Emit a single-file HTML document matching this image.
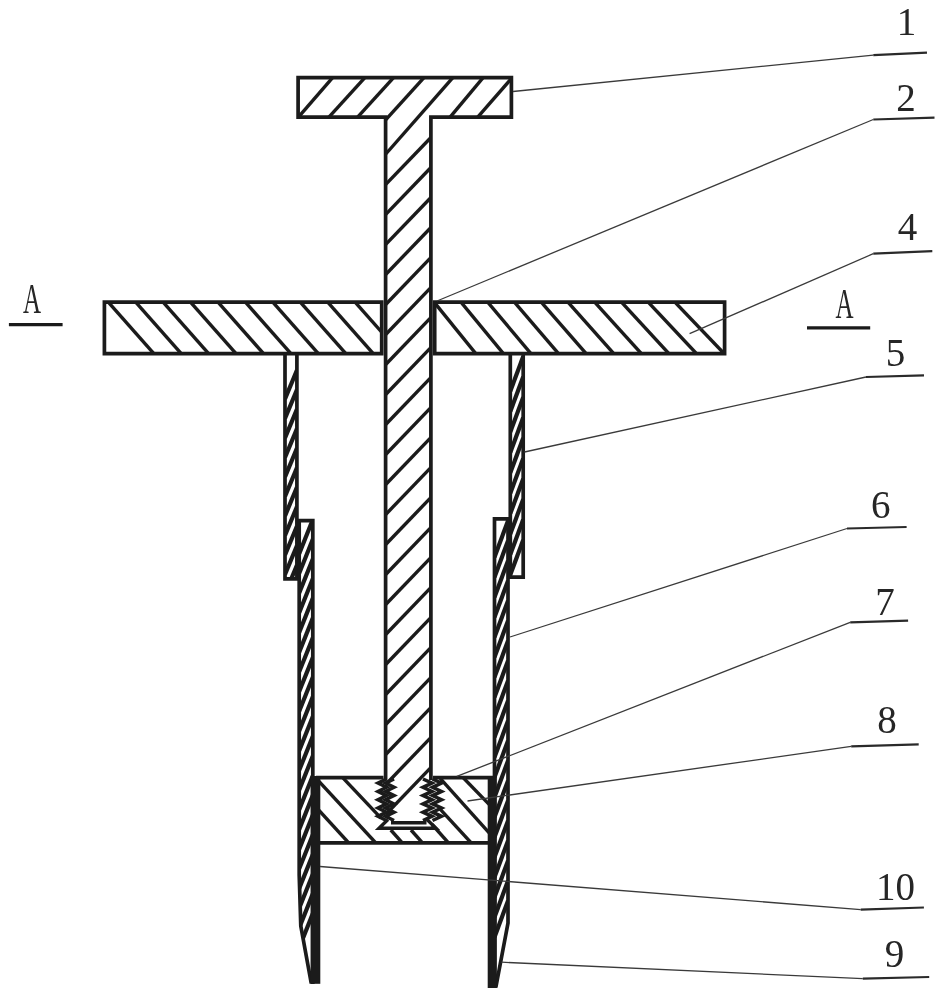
<!DOCTYPE html>
<html lang="zh"><head><meta charset="utf-8"><title>Figure</title>
<style>
html,body{margin:0;padding:0;background:#fff;}
body{width:949px;height:1000px;overflow:hidden;font-family:"Liberation Serif","Noto Serif CJK SC",serif;}
svg{display:block;filter:grayscale(1);}
svg text{font-family:"Liberation Serif","Noto Serif CJK SC",serif;fill:#262626;}
</style></head><body>
<svg width="949" height="1000" viewBox="0 0 949 1000">
<rect width="949" height="1000" fill="#fff"/>
<defs>
<clipPath id="c1"><polygon points="298.1,77.6 511.4,77.6 511.4,117.1 430.9,117.1 430.9,823.0 385.6,823.0 385.6,117.1 298.1,117.1"/></clipPath>
<clipPath id="c2"><polygon points="104.4,302.2 381.7,302.2 381.7,353.7 104.4,353.7"/></clipPath>
<clipPath id="c3"><polygon points="434.7,302.2 724.6,302.2 724.6,353.7 434.7,353.7"/></clipPath>
<clipPath id="c4"><polygon points="285.0,353.7 296.9,353.7 296.9,578.9 285.0,578.9"/></clipPath>
<clipPath id="c5"><polygon points="510.3,353.7 523.2,353.7 523.2,577.2 510.3,577.2"/></clipPath>
<clipPath id="c6"><polygon points="299.2,520.6 312.8,520.6 312.8,984.0 311.0,984.0 300.8,926.0 299.2,875.0"/></clipPath>
<clipPath id="c7"><polygon points="494.5,518.9 508.0,518.9 508.0,923.0 496.0,988.0 494.5,988.0"/></clipPath>
<clipPath id="c8"><polygon points="317.8,777.7 491.6,777.7 491.6,842.8 317.8,842.8"/></clipPath>
</defs>
<g clip-path="url(#c1)" stroke="#1b1b1b" stroke-width="3.4">
<line x1="295.6" y1="120.3" x2="337.5" y2="72.0"/>
<line x1="326.2" y1="120.2" x2="369.9" y2="72.1"/>
<line x1="354.9" y1="120.2" x2="398.6" y2="72.1"/>
<line x1="381.6" y1="124.3" x2="429.0" y2="72.1"/>
<line x1="382.3" y1="158.0" x2="457.8" y2="72.0"/>
<line x1="447.4" y1="120.4" x2="487.9" y2="71.9"/>
<line x1="474.9" y1="120.3" x2="517.1" y2="72.0"/>
<line x1="380.0" y1="190.4" x2="436.0" y2="132.2"/>
<line x1="380.0" y1="220.4" x2="436.0" y2="162.2"/>
<line x1="380.0" y1="250.4" x2="436.0" y2="192.2"/>
<line x1="380.0" y1="280.4" x2="436.0" y2="222.2"/>
<line x1="380.0" y1="310.4" x2="436.0" y2="252.2"/>
<line x1="380.0" y1="340.4" x2="436.0" y2="282.2"/>
<line x1="380.0" y1="370.4" x2="436.0" y2="312.2"/>
<line x1="380.0" y1="400.4" x2="436.0" y2="342.2"/>
<line x1="380.0" y1="430.4" x2="436.0" y2="372.2"/>
<line x1="380.0" y1="460.4" x2="436.0" y2="402.2"/>
<line x1="380.0" y1="490.4" x2="436.0" y2="432.2"/>
<line x1="380.0" y1="520.4" x2="436.0" y2="462.2"/>
<line x1="380.0" y1="550.4" x2="436.0" y2="492.2"/>
<line x1="380.0" y1="580.4" x2="436.0" y2="522.2"/>
<line x1="380.0" y1="610.4" x2="436.0" y2="552.2"/>
<line x1="380.0" y1="640.4" x2="436.0" y2="582.2"/>
<line x1="380.0" y1="670.4" x2="436.0" y2="612.2"/>
<line x1="380.0" y1="700.4" x2="436.0" y2="642.2"/>
<line x1="380.0" y1="730.4" x2="436.0" y2="672.2"/>
<line x1="380.0" y1="760.4" x2="436.0" y2="702.2"/>
<line x1="380.0" y1="790.4" x2="436.0" y2="732.2"/>
<line x1="380.0" y1="820.4" x2="436.0" y2="762.2"/>
</g>
<polyline points="385.6,780.0 385.6,117.1 298.1,117.1 298.1,77.6 511.4,77.6 511.4,117.1 430.9,117.1 430.9,780.0" fill="none" stroke="#1b1b1b" stroke-width="3.7" stroke-linejoin="miter" />
<g clip-path="url(#c2)" stroke="#1b1b1b" stroke-width="3.4">
<line x1="102.0" y1="295.0" x2="163.9" y2="365.0"/>
<line x1="129.4" y1="295.0" x2="191.3" y2="365.0"/>
<line x1="156.8" y1="295.0" x2="218.7" y2="365.0"/>
<line x1="184.2" y1="295.0" x2="246.1" y2="365.0"/>
<line x1="211.7" y1="295.0" x2="273.6" y2="365.0"/>
<line x1="239.1" y1="295.0" x2="301.0" y2="365.0"/>
<line x1="266.5" y1="295.0" x2="328.4" y2="365.0"/>
<line x1="294.0" y1="295.0" x2="355.9" y2="365.0"/>
<line x1="321.4" y1="295.0" x2="383.3" y2="365.0"/>
<line x1="348.8" y1="295.0" x2="410.7" y2="365.0"/>
</g>
<polygon points="104.4,302.2 381.7,302.2 381.7,353.7 104.4,353.7" fill="none" stroke="#1b1b1b" stroke-width="3.7" stroke-linejoin="miter" />
<g clip-path="url(#c3)" stroke="#1b1b1b" stroke-width="3.4">
<line x1="428.4" y1="295.0" x2="485.0" y2="365.0"/>
<line x1="455.1" y1="295.0" x2="512.8" y2="365.0"/>
<line x1="481.7" y1="295.0" x2="540.5" y2="365.0"/>
<line x1="508.3" y1="295.0" x2="568.3" y2="365.0"/>
<line x1="535.0" y1="295.0" x2="596.1" y2="365.0"/>
<line x1="561.6" y1="295.0" x2="623.9" y2="365.0"/>
<line x1="588.2" y1="295.0" x2="651.7" y2="365.0"/>
<line x1="614.9" y1="295.0" x2="679.4" y2="365.0"/>
<line x1="641.5" y1="295.0" x2="707.2" y2="365.0"/>
<line x1="668.1" y1="295.0" x2="735.0" y2="365.0"/>
</g>
<polygon points="434.7,302.2 724.6,302.2 724.6,353.7 434.7,353.7" fill="none" stroke="#1b1b1b" stroke-width="3.7" stroke-linejoin="miter" />
<g clip-path="url(#c4)" stroke="#1b1b1b" stroke-width="4.2">
<line x1="285.0" y1="398.9" x2="296.9" y2="370.3"/>
<line x1="285.0" y1="418.4" x2="296.9" y2="389.8"/>
<line x1="285.0" y1="437.9" x2="296.9" y2="409.3"/>
<line x1="285.0" y1="457.4" x2="296.9" y2="428.8"/>
<line x1="285.0" y1="476.9" x2="296.9" y2="448.3"/>
<line x1="285.0" y1="496.4" x2="296.9" y2="467.8"/>
<line x1="285.0" y1="515.9" x2="296.9" y2="487.3"/>
<line x1="285.0" y1="535.4" x2="296.9" y2="506.8"/>
<line x1="285.0" y1="554.9" x2="296.9" y2="526.3"/>
<line x1="285.0" y1="574.4" x2="296.9" y2="545.8"/>
<line x1="285.0" y1="593.9" x2="296.9" y2="565.3"/>
<line x1="285.0" y1="613.4" x2="296.9" y2="584.8"/>
<line x1="285.0" y1="632.9" x2="296.9" y2="604.3"/>
</g>
<polyline points="285.0,353.7 285.0,578.9 296.9,578.9 296.9,353.7" fill="none" stroke="#1b1b1b" stroke-width="3.7" stroke-linejoin="miter" />
<g clip-path="url(#c5)" stroke="#1b1b1b" stroke-width="4.2">
<line x1="510.3" y1="391.2" x2="523.2" y2="356.4"/>
<line x1="510.3" y1="411.6" x2="523.2" y2="376.8"/>
<line x1="510.3" y1="432.0" x2="523.2" y2="397.2"/>
<line x1="510.3" y1="452.4" x2="523.2" y2="417.6"/>
<line x1="510.3" y1="472.8" x2="523.2" y2="438.0"/>
<line x1="510.3" y1="493.2" x2="523.2" y2="458.4"/>
<line x1="510.3" y1="513.6" x2="523.2" y2="478.8"/>
<line x1="510.3" y1="534.0" x2="523.2" y2="499.2"/>
<line x1="510.3" y1="554.4" x2="523.2" y2="519.6"/>
<line x1="510.3" y1="574.8" x2="523.2" y2="540.0"/>
</g>
<polyline points="510.3,353.7 510.3,577.2 523.2,577.2 523.2,353.7" fill="none" stroke="#1b1b1b" stroke-width="3.7" stroke-linejoin="miter" />
<g clip-path="url(#c6)" stroke="#1b1b1b" stroke-width="4.2">
<line x1="299.2" y1="553.6" x2="312.8" y2="519.6"/>
<line x1="299.2" y1="573.3" x2="312.8" y2="539.3"/>
<line x1="299.2" y1="593.0" x2="312.8" y2="559.0"/>
<line x1="299.2" y1="612.7" x2="312.8" y2="578.7"/>
<line x1="299.2" y1="632.4" x2="312.8" y2="598.4"/>
<line x1="299.2" y1="652.1" x2="312.8" y2="618.1"/>
<line x1="299.2" y1="671.8" x2="312.8" y2="637.8"/>
<line x1="299.2" y1="691.5" x2="312.8" y2="657.5"/>
<line x1="299.2" y1="711.2" x2="312.8" y2="677.2"/>
<line x1="299.2" y1="730.9" x2="312.8" y2="696.9"/>
<line x1="299.2" y1="750.6" x2="312.8" y2="716.6"/>
<line x1="299.2" y1="770.3" x2="312.8" y2="736.3"/>
<line x1="299.2" y1="790.0" x2="312.8" y2="756.0"/>
<line x1="299.2" y1="809.7" x2="312.8" y2="775.7"/>
<line x1="299.2" y1="829.4" x2="312.8" y2="795.4"/>
<line x1="299.2" y1="849.1" x2="312.8" y2="815.1"/>
<line x1="299.2" y1="868.8" x2="312.8" y2="834.8"/>
<line x1="299.2" y1="888.5" x2="312.8" y2="854.5"/>
<line x1="299.2" y1="908.2" x2="312.8" y2="874.2"/>
<line x1="299.2" y1="927.9" x2="312.8" y2="893.9"/>
<line x1="299.2" y1="947.6" x2="312.8" y2="913.6"/>
</g>
<polyline points="312.8,984.0 312.8,520.6 299.2,520.6 299.2,875.0 300.8,926.0 311.3,983.5" fill="none" stroke="#1b1b1b" stroke-width="3.7" stroke-linejoin="miter" />
<g clip-path="url(#c7)" stroke="#1b1b1b" stroke-width="4.2">
<line x1="494.5" y1="557.2" x2="508.0" y2="520.8"/>
<line x1="494.5" y1="577.2" x2="508.0" y2="540.8"/>
<line x1="494.5" y1="597.2" x2="508.0" y2="560.8"/>
<line x1="494.5" y1="617.2" x2="508.0" y2="580.8"/>
<line x1="494.5" y1="637.2" x2="508.0" y2="600.8"/>
<line x1="494.5" y1="657.2" x2="508.0" y2="620.8"/>
<line x1="494.5" y1="677.2" x2="508.0" y2="640.8"/>
<line x1="494.5" y1="697.2" x2="508.0" y2="660.8"/>
<line x1="494.5" y1="717.2" x2="508.0" y2="680.8"/>
<line x1="494.5" y1="737.2" x2="508.0" y2="700.8"/>
<line x1="494.5" y1="757.2" x2="508.0" y2="720.8"/>
<line x1="494.5" y1="777.2" x2="508.0" y2="740.8"/>
<line x1="494.5" y1="797.2" x2="508.0" y2="760.8"/>
<line x1="494.5" y1="817.2" x2="508.0" y2="780.8"/>
<line x1="494.5" y1="837.2" x2="508.0" y2="800.8"/>
<line x1="494.5" y1="857.2" x2="508.0" y2="820.8"/>
<line x1="494.5" y1="877.2" x2="508.0" y2="840.8"/>
<line x1="494.5" y1="897.2" x2="508.0" y2="860.8"/>
<line x1="494.5" y1="917.2" x2="508.0" y2="880.8"/>
<line x1="494.5" y1="937.2" x2="508.0" y2="900.8"/>
</g>
<polyline points="494.5,988.0 494.5,518.9 508.0,518.9 508.0,923.0 495.8,987.5" fill="none" stroke="#1b1b1b" stroke-width="3.7" stroke-linejoin="miter" />
<g clip-path="url(#c8)" stroke="#1b1b1b" stroke-width="3.4">
<line x1="315.1" y1="777.2" x2="375.6" y2="842.7"/>
<line x1="342.9" y1="777.9" x2="381.0" y2="818.2"/>
<line x1="316.3" y1="807.5" x2="350.3" y2="844.6"/>
<line x1="390.8" y1="830.0" x2="403.9" y2="844.7"/>
<line x1="411.0" y1="830.0" x2="424.1" y2="844.7"/>
<line x1="438.5" y1="807.4" x2="472.8" y2="844.6"/>
<line x1="432.1" y1="824.5" x2="450.0" y2="844.6"/>
<line x1="440.2" y1="778.4" x2="492.3" y2="836.4"/>
<line x1="462.8" y1="777.3" x2="492.5" y2="807.9"/>
</g>
<polyline points="383.5,777.7 317.8,777.7 317.8,842.8 491.6,842.8 491.6,777.7 433.0,777.7" fill="none" stroke="#1b1b1b" stroke-width="3.7" stroke-linejoin="miter" />
<rect x="310.6" y="776.0" width="9.7" height="207.8" fill="#1b1b1b"/>
<rect x="487.7" y="776.0" width="9.1" height="212.0" fill="#1b1b1b"/>
<polyline points="386.5,779.0 378.0,783.1 386.5,787.3 378.0,791.4 386.5,795.6 378.0,799.7 386.5,803.9 378.0,808.0 386.5,812.2 378.0,816.3 386.5,820.5" fill="none" stroke="#1b1b1b" stroke-width="3.5" stroke-linejoin="miter" />
<polyline points="394.0,779.0 385.5,783.1 394.0,787.3 385.5,791.4 394.0,795.6 385.5,799.7 394.0,803.9 385.5,808.0 394.0,812.2 385.5,816.3 394.0,820.5" fill="none" stroke="#1b1b1b" stroke-width="3.5" stroke-linejoin="miter" />
<polyline points="432.5,779.0 441.5,783.1 432.5,787.3 441.5,791.4 432.5,795.6 441.5,799.7 432.5,803.9 441.5,808.0 432.5,812.2 441.5,816.3 432.5,820.5" fill="none" stroke="#1b1b1b" stroke-width="3.5" stroke-linejoin="miter" />
<polyline points="423.0,779.0 432.0,783.1 423.0,787.3 432.0,791.4 423.0,795.6 432.0,799.7 423.0,803.9 432.0,808.0 423.0,812.2 432.0,816.3 423.0,820.5" fill="none" stroke="#1b1b1b" stroke-width="3.5" stroke-linejoin="miter" />
<line x1="391.0" y1="822.7" x2="426.5" y2="822.7" stroke="#1b1b1b" stroke-width="3.6" />
<polyline points="388.0,819.5 379.0,828.2 436.0,828.2 427.0,819.5" fill="none" stroke="#1b1b1b" stroke-width="3.4" stroke-linejoin="miter" />
<line x1="513.0" y1="91.5" x2="873.3" y2="55.2" stroke="#3a3a3a" stroke-width="1.3" />
<line x1="873.3" y1="55.2" x2="927.0" y2="52.7" stroke="#2a2a2a" stroke-width="2.2" />
<line x1="437.0" y1="301.0" x2="873.3" y2="119.5" stroke="#3a3a3a" stroke-width="1.3" />
<line x1="873.3" y1="119.5" x2="934.5" y2="117.6" stroke="#2a2a2a" stroke-width="2.2" />
<line x1="689.6" y1="333.7" x2="873.3" y2="253.7" stroke="#3a3a3a" stroke-width="1.3" />
<line x1="873.3" y1="253.7" x2="932.3" y2="251.2" stroke="#2a2a2a" stroke-width="2.2" />
<line x1="524.5" y1="452.0" x2="866.0" y2="377.0" stroke="#3a3a3a" stroke-width="1.3" />
<line x1="866.0" y1="377.0" x2="924.0" y2="375.3" stroke="#2a2a2a" stroke-width="2.2" />
<line x1="510.0" y1="637.0" x2="847.0" y2="528.5" stroke="#3a3a3a" stroke-width="1.3" />
<line x1="847.0" y1="528.5" x2="906.6" y2="527.0" stroke="#2a2a2a" stroke-width="2.2" />
<line x1="456.8" y1="776.4" x2="850.2" y2="622.3" stroke="#3a3a3a" stroke-width="1.3" />
<line x1="850.2" y1="622.3" x2="908.1" y2="620.6" stroke="#2a2a2a" stroke-width="2.2" />
<line x1="467.5" y1="801.0" x2="851.2" y2="746.4" stroke="#3a3a3a" stroke-width="1.3" />
<line x1="851.2" y1="746.4" x2="918.7" y2="744.3" stroke="#2a2a2a" stroke-width="2.2" />
<line x1="320.0" y1="866.5" x2="860.7" y2="909.6" stroke="#3a3a3a" stroke-width="1.3" />
<line x1="860.7" y1="909.6" x2="923.9" y2="907.5" stroke="#2a2a2a" stroke-width="2.2" />
<line x1="501.4" y1="962.2" x2="862.8" y2="978.7" stroke="#3a3a3a" stroke-width="1.3" />
<line x1="862.8" y1="978.7" x2="929.2" y2="977.0" stroke="#2a2a2a" stroke-width="2.2" />
<line x1="8.9" y1="324.6" x2="62.6" y2="324.6" stroke="#1b1b1b" stroke-width="3.4" />
<line x1="807.0" y1="327.9" x2="870.2" y2="327.9" stroke="#1b1b1b" stroke-width="3.4" />
<text x="906.5" y="34.8" font-size="39" text-anchor="middle">1</text>
<text x="906.0" y="110.6" font-size="39" text-anchor="middle">2</text>
<text x="907.5" y="240.0" font-size="39" text-anchor="middle">4</text>
<text x="895.5" y="366.0" font-size="39" text-anchor="middle">5</text>
<text x="880.7" y="518.0" font-size="39" text-anchor="middle">6</text>
<text x="885.0" y="614.9" font-size="39" text-anchor="middle">7</text>
<text x="887.0" y="732.7" font-size="39" text-anchor="middle">8</text>
<text x="895.5" y="900.1" font-size="39" text-anchor="middle">10</text>
<text x="894.5" y="966.5" font-size="39" text-anchor="middle">9</text>
<text transform="translate(32.0,313.2) scale(0.64,1.07)" x="0" y="0" font-size="39" text-anchor="middle">A</text>
<text transform="translate(844.4,318.0) scale(0.64,1.07)" x="0" y="0" font-size="39" text-anchor="middle">A</text>
</svg>
</body></html>
